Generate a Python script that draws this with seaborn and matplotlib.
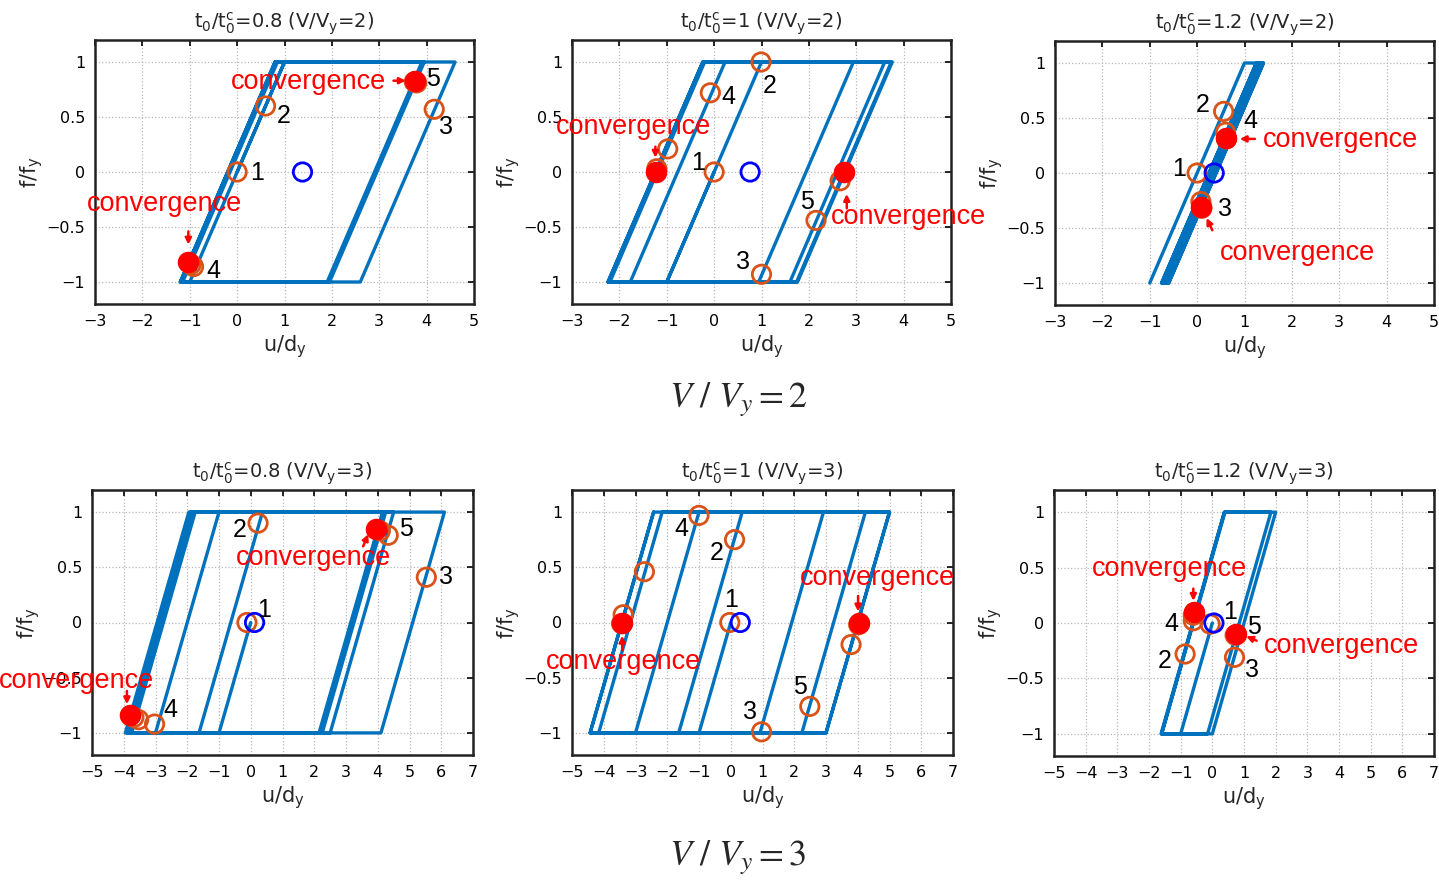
import numpy as np
import pandas as pd
import matplotlib
matplotlib.use("Agg")
import matplotlib.pyplot as plt
import seaborn as sns

W, H = 1439, 885
BLUE = "#0072BD"
ORANGE = "#D95319"
RED = "#FF0000"

# ---------------- data (u/dy, f/fy) ----------------
# t0/t0c = 0.8, V/Vy = 2
P1_PATH_U = [0, 1.0, 4.6, 2.6, -1.0, 1.0, 3.9, 1.9, -1.2, 0.8, 3.95, 1.95, -1.15, 0.85, 3.92, 1.92, -1.2, 0.8]
P1_PATH_F = [0, 1, 1, -1, -1, 1, 1, -1, -1, 1, 1, -1, -1, 1, 1, -1, -1, 1]
P1_OPEN_U = [0.0, 0.6, 4.16, -0.92, 3.79, -0.97, 3.74]
P1_OPEN_F = [0.0, 0.6, 0.57, -0.86, 0.81, -0.84, 0.82]
P1_CONV_U = [-1.03, 3.76]
P1_CONV_F = [-0.82, 0.83]
P1_START = [1.38, 0.0]

# t0/t0c = 1, V/Vy = 2
P2_PATH_U = [0, -1.0, 1.0, 2.94, 0.94, -1.77, 0.23, 3.6, 1.6, -2.24, -0.24, 3.76, 1.76, -2.24, -0.24, 3.74, 1.74, -2.2, -0.2]
P2_PATH_F = [0, -1, 1, 1, -1, -1, 1, 1, -1, -1, 1, 1, -1, -1, 1, 1, -1, -1, 1]
P2_OPEN_U = [0.0, 0.99, 1.0, -0.08, 2.15, -0.98, 2.66, -1.21]
P2_OPEN_F = [0.0, 1.0, -0.93, 0.72, -0.44, 0.21, -0.08, 0.03]
P2_CONV_U = [-1.23, 2.75]
P2_CONV_F = [0.0, 0.0]
P2_START = [0.76, 0.0]

# t0/t0c = 1.2, V/Vy = 2
P3_PATH_U = [-1.0, 1.0, 1.4, -0.6, -0.75, 1.25, 1.4, -0.6, -0.7, 1.3, 1.35, -0.65, -0.75, 1.25, 1.38, -0.62]
P3_PATH_F = [-1, 1, 1, -1, -1, 1, 1, -1, -1, 1, 1, -1, -1, 1, 1, -1]
P3_OPEN_U = [0.0, 0.56, 0.08, 0.1, 0.6, 0.62]
P3_OPEN_F = [0.0, 0.56, -0.26, -0.32, 0.37, 0.31]
P3_CONV_U = [0.08, 0.61]
P3_CONV_F = [-0.31, 0.32]
P3_START = [0.36, 0.0]

# t0/t0c = 0.8, V/Vy = 3
P4_PATH_U = [0, -1.0, -1.63, 0.37, 6.1, 4.1, -3.0, -1.0, 4.5, 2.5, -3.95, -1.95, 4.15, 2.15,
             -3.85, -1.85, 4.25, 2.25, -3.75, -1.75, 4.18, 2.18, -3.9, -1.9]
P4_PATH_F = [0, -1, -1, 1, 1, -1, -1, 1, 1, -1, -1, 1, 1, -1,
             -1, 1, 1, -1, -1, 1, 1, -1, -1, 1]
P4_OPEN_U = [-0.12, 0.23, 5.53, -3.03, 4.33, 4.08, -3.68, -3.53]
P4_OPEN_F = [0.0, 0.9, 0.41, -0.92, 0.79, 0.83, -0.86, -0.88]
P4_CONV_U = [-3.81, 3.96]
P4_CONV_F = [-0.84, 0.85]
P4_START = [0.12, 0.0]

# t0/t0c = 1, V/Vy = 3
P5_PATH_U = [0, -1.0, -1.64, 0.36, 2.92, 0.92, -3.0, -1.0, 4.24, 2.24, -4.16, -2.16, 5.0, 3.0,
             -4.43, -2.43, 5.0, 3.0, -4.43, -2.43]
P5_PATH_F = [0, -1, -1, 1, 1, -1, -1, 1, 1, -1, -1, 1, 1, -1,
             -1, 1, 1, -1, -1, 1]
P5_OPEN_U = [-0.03, 0.12, 0.97, -1.0, 2.49, -2.72, -3.39, -3.44, 3.79, 4.03]
P5_OPEN_F = [0.0, 0.75, -0.99, 0.97, -0.76, 0.46, 0.07, -0.01, -0.2, -0.02]
P5_CONV_U = [-3.44, 4.03]
P5_CONV_F = [0.0, 0.0]
P5_START = [0.3, 0.0]

# t0/t0c = 1.2, V/Vy = 3
P6_PATH_U = [0, -1.0, -1.6, 0.38, 2.0, 0.0, -1.62, 0.38, 1.85, -0.15, -1.6, 0.4]
P6_PATH_F = [0, -1, -1, 1, 1, -1, -1, 1, 1, -1, -1, 1]
P6_OPEN_U = [-0.07, -0.86, 0.7, -0.6, 0.72, -0.6]
P6_OPEN_F = [-0.01, -0.28, -0.31, 0.02, -0.11, 0.07]
P6_CONV_U = [-0.57, 0.74]
P6_CONV_F = [0.1, -0.1]
P6_START = [0.05, 0.0]

RATIOS = ["0.8", "1", "1.2"]
V_LEVELS = ["2", "3"]
YTICKS = [-1, -0.5, 0, 0.5, 1]
YTICK_LABELS = ["\u22121", "\u22120.5", "0", "0.5", "1"]

# annotations: numbered iterations and "convergence" notes (text, u, f)
P1_NUMS = [("1", 0.42, -0.01), ("2", 0.98, 0.51), ("3", 4.41, 0.41), ("4", -0.5, -0.9), ("5", 4.14, 0.85)]
P2_NUMS = [("1", -0.33, 0.08), ("2", 1.17, 0.78), ("3", 0.6, -0.82), ("4", 0.3, 0.68), ("5", 1.95, -0.27)]
P3_NUMS = [("1", -0.39, 0.04), ("2", 0.11, 0.62), ("3", 0.59, -0.33), ("4", 1.13, 0.47)]
P4_NUMS = [("1", 0.41, 0.11), ("2", -0.35, 0.84), ("3", 6.16, 0.41), ("4", -2.53, -0.79), ("5", 4.9, 0.85)]
P5_NUMS = [("1", 0.01, 0.2), ("2", -0.43, 0.63), ("3", 0.6, -0.81), ("4", -1.55, 0.85), ("5", 2.17, -0.58)]
P6_NUMS = [("1", 0.56, 0.1), ("2", -1.5, -0.34), ("3", 1.24, -0.42), ("4", -1.29, -0.01), ("5", 1.32, -0.04)]

# (text u, text f, arrow tail u, f, arrow head u, f)
P1_NOTES = [(1.51, 0.82, 3.3, 0.83, 3.56, 0.83), (-1.54, -0.29, -1.03, -0.54, -1.03, -0.66)]
P2_NOTES = [(-1.7, 0.41, -1.24, 0.23, -1.24, 0.13), (4.11, -0.41, 2.8, -0.33, 2.8, -0.2)]
P3_NOTES = [(3.02, 0.3, 1.22, 0.31, 0.9, 0.31), (2.12, -0.73, 0.32, -0.52, 0.2, -0.41)]
P4_NOTES = [(1.98, 0.58, 3.54, 0.69, 3.7, 0.8), (-5.49, -0.53, -3.9, -0.62, -3.9, -0.74)]
P5_NOTES = [(4.63, 0.4, 4.01, 0.24, 4.01, 0.1), (-3.39, -0.36, -3.42, -0.25, -3.42, -0.12)]
P6_NOTES = [(-1.36, 0.49, -0.6, 0.31, -0.6, 0.2), (4.07, -0.21, 1.4, -0.16, 1.07, -0.12)]

PANELS = [
    (P1_PATH_U, P1_PATH_F, P1_OPEN_U, P1_OPEN_F, P1_CONV_U, P1_CONV_F, P1_START, P1_NUMS, P1_NOTES),
    (P2_PATH_U, P2_PATH_F, P2_OPEN_U, P2_OPEN_F, P2_CONV_U, P2_CONV_F, P2_START, P2_NUMS, P2_NOTES),
    (P3_PATH_U, P3_PATH_F, P3_OPEN_U, P3_OPEN_F, P3_CONV_U, P3_CONV_F, P3_START, P3_NUMS, P3_NOTES),
    (P4_PATH_U, P4_PATH_F, P4_OPEN_U, P4_OPEN_F, P4_CONV_U, P4_CONV_F, P4_START, P4_NUMS, P4_NOTES),
    (P5_PATH_U, P5_PATH_F, P5_OPEN_U, P5_OPEN_F, P5_CONV_U, P5_CONV_F, P5_START, P5_NUMS, P5_NOTES),
    (P6_PATH_U, P6_PATH_F, P6_OPEN_U, P6_OPEN_F, P6_CONV_U, P6_CONV_F, P6_START, P6_NUMS, P6_NOTES),
]

# axes boxes in pixels: left, top, right, bottom
BOXES = [(95, 40, 474, 304), (572, 40, 951, 304), (1055, 41, 1434, 305),
         (92, 490, 473, 755), (572, 490, 953, 755), (1054, 490, 1434, 756)]

sns.set_theme(style="white")
plt.rcParams["font.family"] = ["DejaVu Sans"]
plt.rcParams["axes.unicode_minus"] = True

fig = plt.figure(figsize=(W / 100, H / 100), dpi=100)

for i, (pu, pf, ou, of, cu, cf, st, nums, notes) in enumerate(PANELS):
    l, t, r, b = BOXES[i]
    ax = fig.add_axes([l / W, 1 - b / H, (r - l) / W, (b - t) / H])
    row, col = divmod(i, 3)

    path = pd.DataFrame({"u": pu, "f": pf})
    sns.lineplot(data=path, x="u", y="f", sort=False, estimator=None,
                 color=BLUE, lw=2.4, ax=ax, zorder=2)
    sns.scatterplot(x=ou, y=of, ax=ax, s=175, facecolor="none",
                    edgecolor=ORANGE, linewidth=2.0, zorder=3)
    sns.scatterplot(x=cu, y=cf, ax=ax, s=210, color=RED,
                    edgecolor=RED, linewidth=1.0, zorder=4)
    sns.scatterplot(x=[st[0]], y=[st[1]], ax=ax, s=175, facecolor="none",
                    edgecolor="#0000FF", linewidth=2.0, zorder=5)

    for txt, x, y in nums:
        ax.text(x, y, txt, fontsize=18, color="black", ha="center", va="center",
                family="Liberation Sans", zorder=6)
    for tx, ty, ax0, ay0, ax1, ay1 in notes:
        ax.text(tx, ty, "convergence", fontsize=19.5, color=RED, ha="center",
                va="center", family="Liberation Sans", zorder=7, clip_on=False)
        ax.annotate("", xy=(ax1, ay1), xytext=(ax0, ay0),
                    arrowprops=dict(arrowstyle="-|>", color=RED, lw=1.8,
                                    mutation_scale=9, shrinkA=0, shrinkB=0),
                    zorder=7)

    if row == 0:
        ax.set_xlim(-3, 5)
        ax.set_xticks(range(-3, 6))
    else:
        ax.set_xlim(-5, 7)
        ax.set_xticks(range(-5, 8))
    ax.set_xticklabels([str(v).replace("-", "\u2212") for v in ax.get_xticks().astype(int)])
    ax.set_ylim(-1.2, 1.2)
    ax.set_yticks(YTICKS)
    ax.set_yticklabels(YTICK_LABELS)

    ax.grid(True, color="#b8b8b8", linestyle=":", linewidth=0.9)
    ax.tick_params(direction="in", length=4, width=1.2, top=True, right=True,
                   labelsize=11.5, colors="black", pad=7)
    for sp in ax.spines.values():
        sp.set_color("#222222")
        sp.set_linewidth(1.8)

    ax.set_title(r"$\mathregular{t_0/t_0^c}$=" + RATIOS[col] + r" (V/V$\mathregular{_y}$=" + V_LEVELS[row] + ")",
                 fontsize=14, pad=8)
    ax.set_xlabel(r"u/d$\mathregular{_y}$", fontsize=15, labelpad=3)
    ax.set_ylabel(r"f/f$\mathregular{_y}$", fontsize=15, labelpad=1)

for k, v in enumerate(V_LEVELS):
    fig.text(738 / W, 1 - (400 + 458 * k) / H, r"$V\ /\ V_y = %s$" % v, fontsize=26,
             ha="center", va="center", math_fontfamily="stix")

fig.savefig("out.png", dpi=100)
